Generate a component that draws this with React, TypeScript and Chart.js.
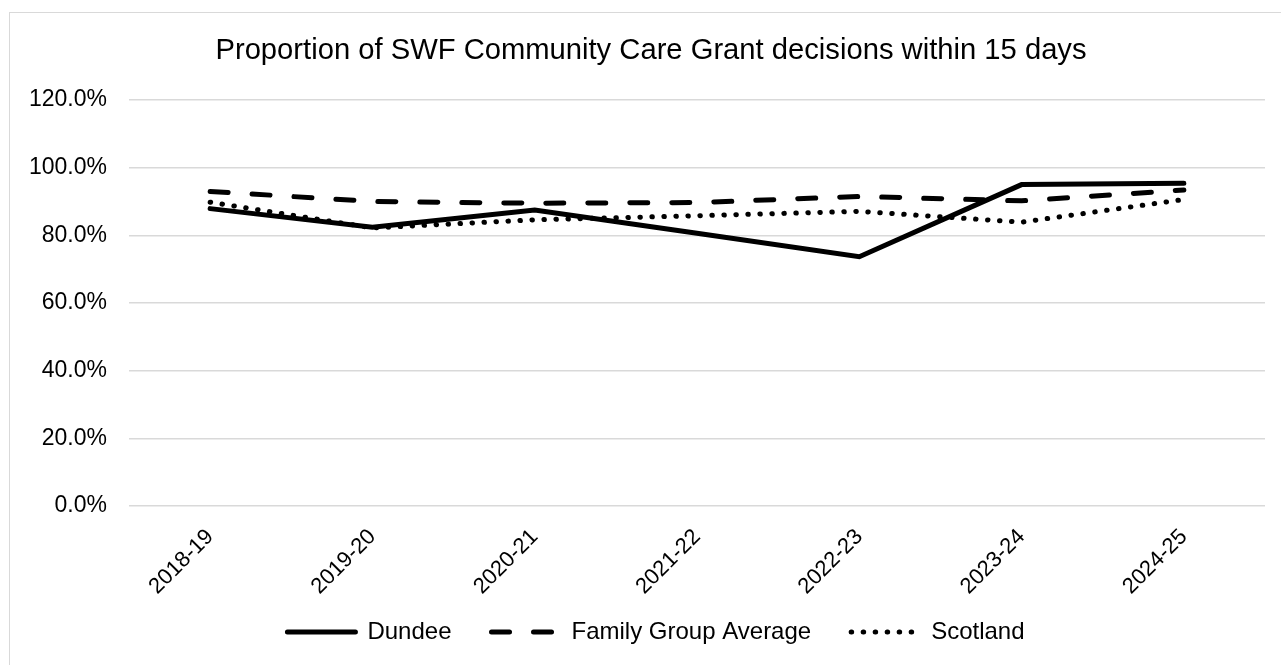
import React, { useEffect, useRef } from "react";
import { Chart, registerables } from "chart.js";

Chart.register(...registerables);

const categories = ["2018-19", "2019-20", "2020-21", "2021-22", "2022-23", "2023-24", "2024-25"];
const dundee = [87.9, 82.4, 87.5, 80.6, 73.7, 95.0, 95.4];
const familyGroupAverage = [93.0, 90.0, 89.5, 89.7, 91.5, 90.2, 93.4];
const scotland = [89.8, 82.2, 84.6, 85.8, 87.1, 83.9, 90.6];
const yTicks = [0, 20, 40, 60, 80, 100, 120];

const FONT = "'Liberation Sans', Arial, sans-serif";

const layoutShift = {
  id: "layoutShift",
  afterLayout(chart: any) {
    const l = chart.legend;
    if (l) {
      l.top -= 22;
      l.left += 10;
      l.right += 10;
    }
    const t = chart.titleBlock;
    if (t) {
      t.left += 5;
      t.right += 5;
    }
  },
};

export default function App() {
  const ref = useRef<HTMLCanvasElement | null>(null);
  useEffect(() => {
    if (!ref.current) return;
    const chart = new Chart(ref.current, {
      type: "line",
      data: {
        labels: categories,
        datasets: [
          {
            label: "Dundee",
            data: dundee,
            borderColor: "#000",
            backgroundColor: "#000",
            borderWidth: 5,
            borderCapStyle: "round",
            borderJoinStyle: "miter",
            pointRadius: 0,
            tension: 0,
          },
          {
            label: "Family Group Average",
            data: familyGroupAverage,
            borderColor: "#000",
            backgroundColor: "#000",
            borderWidth: 5,
            borderDash: [18, 24],
            borderCapStyle: "round",
            pointRadius: 0,
            tension: 0,
          },
          {
            label: "Scotland",
            data: scotland,
            borderColor: "#000",
            backgroundColor: "#000",
            borderWidth: 5,
            borderDash: [0.5, 11.5],
            borderCapStyle: "round",
            pointRadius: 0,
            tension: 0,
          },
        ],
      },
      plugins: [layoutShift],
      options: {
        animation: false,
        responsive: false,
        layout: { padding: { left: 17, right: 26, top: 0, bottom: 0 } },
        plugins: {
          title: {
            display: true,
            text: "Proportion of SWF Community Care Grant decisions within 15 days",
            color: "#000",
            font: { family: FONT, size: 29.2, weight: "normal" },
            padding: { top: 20, bottom: 32 },
          },
          legend: {
            position: "bottom",
            maxHeight: 63,
            labels: {
              color: "#000",
              font: { family: FONT, size: 24 },
              usePointStyle: true,
              pointStyle: "line",
              pointStyleWidth: 68,
              boxHeight: 24,
              padding: 40,
              generateLabels: (c: any) =>
                c.data.datasets.map((ds: any, i: number) => ({
                  text: ds.label,
                  fillStyle: "#000",
                  strokeStyle: "#000",
                  fontColor: "#000",
                  lineWidth: 5,
                  lineDash: ds.borderDash || [],
                  lineCap: "round",
                  pointStyle: "line",
                  hidden: false,
                  datasetIndex: i,
                })),
            },
          },
          tooltip: { enabled: false },
        },
        scales: {
          x: {
            offset: true,
            grid: { display: false, drawTicks: false },
            border: { display: false },
            afterFit: (scale: any) => {
              scale.height = 96;
            },
            ticks: {
              color: "#000",
              font: { family: FONT, size: 22 },
              minRotation: 45,
              maxRotation: 45,
              padding: 18,
              autoSkip: false,
            },
          },
          y: {
            min: 0,
            max: 120,
            afterBuildTicks: (scale: any) => {
              scale.ticks = yTicks.map((v) => ({ value: v }));
            },
            afterFit: (scale: any) => {
              scale.width = 102;
            },
            grid: { color: "#d9d9d9", lineWidth: 1.5, drawTicks: false },
            border: { display: false },
            ticks: {
              color: "#000",
              font: { family: FONT, size: 23 },
              padding: 22,
              callback: (v: any) => Number(v).toFixed(1) + "%",
            },
          },
        },
      },
    } as any);
    return () => chart.destroy();
  }, []);

  return (
    <div>
      <div
        style={{
          position: "fixed",
          left: 9,
          top: 12,
          width: 1290,
          height: 700,
          borderTop: "1px solid #d9d9d9",
          borderLeft: "1px solid #d9d9d9",
          boxSizing: "border-box",
        }}
      />
      <div style={{ position: "fixed", left: 10, top: 13, width: 1271, height: 652, overflow: "hidden" }}>
        <canvas ref={ref} width={1281} height={652} style={{ display: "block" }} />
      </div>
    </div>
  );
}
